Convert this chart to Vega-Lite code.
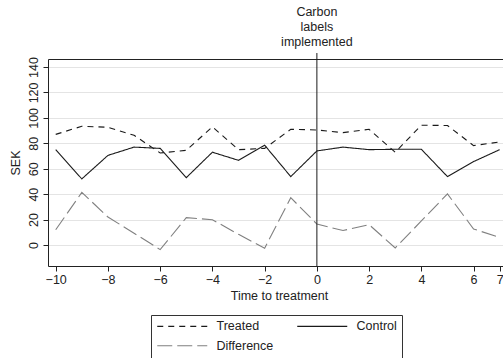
{
  "$schema": "https://vega.github.io/schema/vega-lite/v6.json",
  "autosize": {"type": "none"},
  "padding": {"left": 48, "top": 59, "right": 0, "bottom": 92},
  "width": 455,
  "height": 207,
  "background": "white",
  "config": {
    "view": {"stroke": null},
    "font": "Liberation Sans",
    "axis": {"labelFont": "Liberation Sans", "titleFont": "Liberation Sans", "labelFontSize": 12.5, "titleFontSize": 12.5, "titleFontWeight": "normal", "labelColor": "#222", "titleColor": "#222", "domainColor": "#222", "tickColor": "#222", "gridColor": "#e4e4e4", "gridWidth": 1, "tickSize": 5},
    "legend": {"orient": "none", "legendX": 103, "legendY": 256, "columns": 2, "direction": "horizontal", "symbolType": "M-1,0H9", "symbolSize": 100, "symbolStrokeWidth": 1.1, "labelFont": "Liberation Sans", "labelFontSize": 12.5, "labelColor": "#222", "labelOffset": 48, "columnPadding": 21, "rowPadding": 6.5, "padding": 5, "strokeColor": "#333", "fillColor": "white"}
  },
  "resolve": {"axis": {"x": "independent"}},
  "layer": [
    {
      "data": {"values": [
        {"t": -10, "series": "Treated", "sek": 87},
        {"t": -9, "series": "Treated", "sek": 93.4},
        {"t": -8, "series": "Treated", "sek": 92.6},
        {"t": -7, "series": "Treated", "sek": 86.3},
        {"t": -6, "series": "Treated", "sek": 72.4},
        {"t": -5, "series": "Treated", "sek": 74.5},
        {"t": -4, "series": "Treated", "sek": 92.9},
        {"t": -3, "series": "Treated", "sek": 75},
        {"t": -2, "series": "Treated", "sek": 76},
        {"t": -1, "series": "Treated", "sek": 91},
        {"t": 0, "series": "Treated", "sek": 90.5},
        {"t": 1, "series": "Treated", "sek": 88.4},
        {"t": 2, "series": "Treated", "sek": 91},
        {"t": 3, "series": "Treated", "sek": 73},
        {"t": 4, "series": "Treated", "sek": 94.2},
        {"t": 5, "series": "Treated", "sek": 94},
        {"t": 6, "series": "Treated", "sek": 78.2},
        {"t": 7, "series": "Treated", "sek": 81},
        {"t": -10, "series": "Control", "sek": 75},
        {"t": -9, "series": "Control", "sek": 52},
        {"t": -8, "series": "Control", "sek": 70.5},
        {"t": -7, "series": "Control", "sek": 77},
        {"t": -6, "series": "Control", "sek": 76},
        {"t": -5, "series": "Control", "sek": 53},
        {"t": -4, "series": "Control", "sek": 73},
        {"t": -3, "series": "Control", "sek": 66.6},
        {"t": -2, "series": "Control", "sek": 78.5},
        {"t": -1, "series": "Control", "sek": 53.8},
        {"t": 0, "series": "Control", "sek": 74},
        {"t": 1, "series": "Control", "sek": 77},
        {"t": 2, "series": "Control", "sek": 75},
        {"t": 3, "series": "Control", "sek": 75.3},
        {"t": 4, "series": "Control", "sek": 75.3},
        {"t": 5, "series": "Control", "sek": 53.8},
        {"t": 6, "series": "Control", "sek": 65.6},
        {"t": 7, "series": "Control", "sek": 75},
        {"t": -10, "series": "Difference", "sek": 12},
        {"t": -9, "series": "Difference", "sek": 41.4},
        {"t": -8, "series": "Difference", "sek": 22},
        {"t": -7, "series": "Difference", "sek": 9.3},
        {"t": -6, "series": "Difference", "sek": -3.6},
        {"t": -5, "series": "Difference", "sek": 21.5},
        {"t": -4, "series": "Difference", "sek": 19.9},
        {"t": -3, "series": "Difference", "sek": 8.4},
        {"t": -2, "series": "Difference", "sek": -2.5},
        {"t": -1, "series": "Difference", "sek": 37.2},
        {"t": 0, "series": "Difference", "sek": 16.5},
        {"t": 1, "series": "Difference", "sek": 11.4},
        {"t": 2, "series": "Difference", "sek": 16},
        {"t": 3, "series": "Difference", "sek": -2.3},
        {"t": 4, "series": "Difference", "sek": 18.9},
        {"t": 5, "series": "Difference", "sek": 40.2},
        {"t": 6, "series": "Difference", "sek": 12.6},
        {"t": 7, "series": "Difference", "sek": 6}
      ]},
      "mark": {"type": "line", "strokeWidth": 1.1, "clip": false},
      "encoding": {
        "x": {"field": "t", "type": "quantitative",
          "scale": {"domain": [-10.295, 7.126], "nice": false, "zero": false},
          "axis": {"values": [-10, -8, -6, -4, -2, 0, 2, 4, 6, 7], "title": "Time to treatment", "grid": false, "labelPadding": 2, "titlePadding": 4, "titleX": 231, "labelFlush": false, "labelOverlap": false}},
        "y": {"field": "sek", "type": "quantitative",
          "scale": {"domain": [-16.5, 146.3], "nice": false, "zero": false},
          "axis": {"values": [0, 20, 40, 60, 80, 100, 120, 140], "title": "SEK", "grid": true, "labelAngle": 270, "labelAlign": "center", "labelBaseline": "bottom", "labelPadding": 3, "labelOverlap": false, "titlePadding": 5}},
        "color": {"field": "series", "type": "nominal",
          "scale": {"domain": ["Treated", "Control", "Difference"], "range": ["#1a1a1a", "#1a1a1a", "#808080"]},
          "legend": {"title": null}},
        "strokeDash": {"field": "series", "type": "nominal",
          "scale": {"domain": ["Treated", "Control", "Difference"], "range": [[6, 5], [1, 0], [15, 5]]},
          "legend": {"title": null}}
      }
    },
    {
      "data": {"values": [{"event": 0, "low": -16.5, "high": 151, "label": "Carbon|labels|implemented", "texty": 188}]},
      "layer": [
        {
          "mark": {"type": "rule", "color": "#1a1a1a", "strokeWidth": 1, "clip": false},
          "encoding": {
            "x": {"field": "event", "type": "quantitative", "axis": {"orient": "top", "labels": false, "ticks": false, "grid": false, "title": null, "domain": true}},
            "y": {"field": "low", "type": "quantitative",
              "axis": {"values": [0, 20, 40, 60, 80, 100, 120, 140], "title": "SEK", "grid": true, "labelAngle": 270, "labelAlign": "center", "labelBaseline": "bottom", "labelPadding": 3, "labelOverlap": false, "titlePadding": 5}},
            "y2": {"field": "high"}
          }
        },
        {
          "mark": {"type": "text", "align": "center", "baseline": "top", "lineBreak": "|", "lineHeight": 15, "fontSize": 12.5, "font": "Liberation Sans", "color": "#222", "clip": false},
          "encoding": {
            "x": {"field": "event", "type": "quantitative"},
            "y": {"field": "texty", "type": "quantitative",
              "axis": {"values": [0, 20, 40, 60, 80, 100, 120, 140], "title": "SEK", "grid": true, "labelAngle": 270, "labelAlign": "center", "labelBaseline": "bottom", "labelPadding": 3, "labelOverlap": false, "titlePadding": 5}},
            "text": {"field": "label"}
          }
        }
      ]
    }
  ]
}
